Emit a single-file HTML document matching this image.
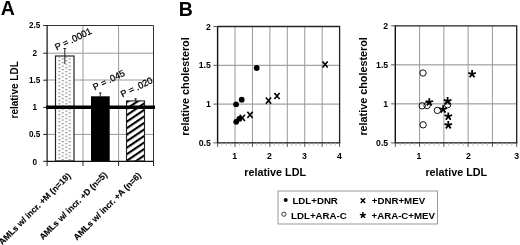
<!DOCTYPE html>
<html><head><meta charset="utf-8">
<style>
html,body{margin:0;padding:0;background:#fff;width:520px;height:245px;overflow:hidden}
svg{display:block;will-change:transform}
text{font-family:"Liberation Sans",sans-serif}
.b{font-weight:bold}
</style></head><body>
<svg width="520" height="245" viewBox="0 0 520 245">
<defs>
<pattern id="dots" patternUnits="userSpaceOnUse" width="7" height="3.6" x="58.5" y="56.5">
<rect x="0" y="0" width="1.6" height="1.2" fill="#707070"/>
<rect x="3.5" y="1.8" width="1.6" height="1.2" fill="#707070"/>
</pattern>
<pattern id="hatch" patternUnits="userSpaceOnUse" width="5.4" height="10" patternTransform="translate(126,101.4) rotate(56)">
<rect x="0" y="0" width="2.1" height="10" fill="#000"/>
</pattern>
<g id="mx"><path d="M-2.6,-3.1 L2.6,3.1 M2.6,-3.1 L-2.6,3.1" stroke="#000" stroke-width="1.6" fill="none"/></g>
<g id="ms"><path d="M0,0 L0,-4 M0,0 L-3.8,-1.2 M0,0 L3.8,-1.2 M0,0 L-2.4,3.3 M0,0 L2.4,3.3" stroke="#000" stroke-width="1.8" fill="none"/></g>
</defs>

<!-- ===== Panel A ===== -->
<text x="0.7" y="15.4" class="b" font-size="19.5">A</text>
<g stroke="#999" stroke-width="1" fill="none">
<path d="M47,53.2 H154 M47,80 H154 M47,134.4 H154"/>
<path d="M83,25 V161 M118.6,25 V161"/>
</g>
<!-- bars -->
<rect x="55.5" y="56" width="18.5" height="105" fill="#fff"/>
<rect x="57.5" y="57" width="14.5" height="104" fill="url(#dots)"/>
<rect x="55.5" y="56" width="18.5" height="105" fill="none" stroke="#222" stroke-width="1.2"/>
<rect x="91" y="96.3" width="18.7" height="64.7" fill="#000"/>
<rect x="126.5" y="100.9" width="18" height="60.1" fill="#fff"/>
<rect x="126.5" y="100.9" width="18" height="60.1" fill="url(#hatch)" stroke="#222" stroke-width="1.1"/>
<!-- error bars -->
<g stroke="#222" stroke-width="1" fill="none">
<path d="M64.8,48.5 V64 M63.5,48.5 H66.1"/>
<path d="M100.3,93 V97 M99,93 H101.6"/>
<path d="M135.6,98.8 V101 M134.4,98.8 H136.8"/>
</g>
<!-- frame -->
<path d="M47,25.5 H153.5 V161" stroke="#333" stroke-width="1" fill="none"/>
<path d="M47.1,25 V161.3 H154" stroke="#111" stroke-width="1.2" fill="none"/>
<g stroke="#222" stroke-width="1">
<path d="M43.2,25.5 H47 M43.2,53.2 H47 M43.2,80.2 H47 M43.2,107.4 H47 M43.2,134.4 H47 M43.2,161.3 H47"/>
<path d="M47.1,161 V166 M83,161 V166 M118.6,161 V166 M153.5,161 V166"/>
</g>
<!-- thick line at 1 -->
<rect x="46" y="105.5" width="109" height="3.5" fill="#000"/>
<g class="b" font-size="8.2" text-anchor="middle">
<text x="34.7" y="28.3">2.5</text>
<text x="34.7" y="55.5">2</text>
<text x="34.7" y="82.7">1.5</text>
<text x="34.7" y="110.3">1</text>
<text x="34.7" y="137">0.5</text>
<text x="34.7" y="164.6">0</text>
</g>
<text class="b" font-size="10" transform="translate(17.6,118.5) rotate(-90)">relative LDL</text>
<g font-size="9.2" stroke="#000" stroke-width="0.25">
<text transform="translate(56.8,50.6) rotate(-26)">P = .0001</text>
<text transform="translate(94.8,90.4) rotate(-26)">P = .045</text>
<text transform="translate(122.6,97.6) rotate(-26)">P = .020</text>
</g>
<g class="b" font-size="8.6" stroke="#000" stroke-width="0.15">
<text transform="translate(2.3,245.3) rotate(-45)">AMLs w/ incr. +M (n=19)</text>
<text transform="translate(42.9,240.3) rotate(-45)">AMLs w/ incr. +D (n=5)</text>
<text transform="translate(77,240.7) rotate(-45)">AMLs w/ incr. +A (n=6)</text>
</g>

<!-- ===== Panel B ===== -->
<text x="178.7" y="15.6" class="b" font-size="19.5">B</text>
<!--axB-->
<g stroke="#9a9a9a" stroke-width="1" fill="none">
<path d="M217.6,65.3 H339.6 M217.6,104.1 H339.6" stroke="#8c8c8c"/>
<path d="M235.03,26.5 V142.9 M252.46,26.5 V142.9 M269.89,26.5 V142.9 M287.31,26.5 V142.9 M304.74,26.5 V142.9 M322.17,26.5 V142.9"/>
</g>
<path d="M217.6,26.5 H339.6 V142.9" stroke="#222" stroke-width="1.3" fill="none"/>
<path d="M217.6,25.9 V142.9 H340.2" stroke="#111" stroke-width="1.4" fill="none"/>
<path d="M213.4,142.9 H217.6 M213.4,104.1 H217.6 M213.4,65.3 H217.6 M213.4,26.5 H217.6" stroke="#555" stroke-width="1"/>
<path d="M217.6,142.9 V146.9 M235.03,142.9 V146.9 M252.46,142.9 V146.9 M269.89,142.9 V146.9 M287.31,142.9 V146.9 M304.74,142.9 V146.9 M322.17,142.9 V146.9 M339.6,142.9 V146.9" stroke="#555" stroke-width="1"/>
<path d="M221.96,142.9 V145.9 M226.31,142.9 V145.9 M230.67,142.9 V145.9 M239.39,142.9 V145.9 M243.74,142.9 V145.9 M248.1,142.9 V145.9 M256.81,142.9 V145.9 M261.17,142.9 V145.9 M265.53,142.9 V145.9 M274.24,142.9 V145.9 M278.6,142.9 V145.9 M282.96,142.9 V145.9 M291.67,142.9 V145.9 M296.03,142.9 V145.9 M300.39,142.9 V145.9 M309.1,142.9 V145.9 M313.46,142.9 V145.9 M317.81,142.9 V145.9 M326.53,142.9 V145.9 M330.89,142.9 V145.9 M335.24,142.9 V145.9" stroke="#bbb" stroke-width="0.9"/>
<!--/axB-->
<g class="b" font-size="8.7" text-anchor="end">
<text x="210.8" y="29.5">2</text>
<text x="210.8" y="68.4">1.5</text>
<text x="210.8" y="107.4">1</text>
<text x="210.8" y="146.4">0.5</text>
</g>
<g class="b" font-size="8.7" text-anchor="middle">
<text x="234.6" y="159">1</text>
<text x="269.5" y="159">2</text>
<text x="304.4" y="159">3</text>
<text x="339.4" y="159">4</text>
</g>
<text class="b" font-size="10.8" x="275.2" y="176.2" text-anchor="middle">relative LDL</text>
<text class="b" font-size="10.8" transform="translate(189.3,86.5) rotate(-90)" text-anchor="middle">relative cholesterol</text>
<!-- data B -->
<g fill="#000">
<circle cx="236.1" cy="104.3" r="2.9"/>
<circle cx="241.7" cy="99.7" r="2.9"/>
<circle cx="236.2" cy="121.8" r="2.9"/>
<circle cx="239.3" cy="118.8" r="2.9"/>
<circle cx="256.7" cy="68" r="2.9"/>
</g>
<use href="#mx" x="242.3" y="117.8"/>
<use href="#mx" x="250" y="114.9"/>
<use href="#mx" x="268.5" y="100.6"/>
<use href="#mx" x="277" y="96"/>
<use href="#mx" x="325.1" y="64.5"/>

<!-- ===== Panel C ===== -->
<!--axC-->
<g stroke="#9a9a9a" stroke-width="1" fill="none">
<path d="M395.3,64.83 H516.7 M395.3,103.87 H516.7" stroke="#8c8c8c"/>
<path d="M419.58,25.8 V142.9 M443.86,25.8 V142.9 M468.14,25.8 V142.9 M492.42,25.8 V142.9"/>
</g>
<path d="M395.3,25.8 H516.7 V142.9" stroke="#222" stroke-width="1.3" fill="none"/>
<path d="M395.3,25.2 V142.9 H517.3" stroke="#111" stroke-width="1.4" fill="none"/>
<path d="M391.1,142.9 H395.3 M391.1,103.87 H395.3 M391.1,64.83 H395.3 M391.1,25.8 H395.3" stroke="#555" stroke-width="1"/>
<path d="M395.3,142.9 V146.9 M419.58,142.9 V146.9 M443.86,142.9 V146.9 M468.14,142.9 V146.9 M492.42,142.9 V146.9 M516.7,142.9 V146.9" stroke="#555" stroke-width="1"/>
<path d="M400.16,142.9 V145.9 M405.01,142.9 V145.9 M409.87,142.9 V145.9 M414.72,142.9 V145.9 M424.44,142.9 V145.9 M429.29,142.9 V145.9 M434.15,142.9 V145.9 M439,142.9 V145.9 M448.72,142.9 V145.9 M453.57,142.9 V145.9 M458.43,142.9 V145.9 M463.28,142.9 V145.9 M473,142.9 V145.9 M477.85,142.9 V145.9 M482.71,142.9 V145.9 M487.56,142.9 V145.9 M497.28,142.9 V145.9 M502.13,142.9 V145.9 M506.99,142.9 V145.9 M511.84,142.9 V145.9" stroke="#bbb" stroke-width="0.9"/>
<!--/axC-->
<g class="b" font-size="8.7" text-anchor="end">
<text x="388.2" y="28.8">2</text>
<text x="388.2" y="67.6">1.5</text>
<text x="388.2" y="106.6">1</text>
<text x="388.2" y="146">0.5</text>
</g>
<g class="b" font-size="8.7" text-anchor="middle">
<text x="419" y="158.6">1</text>
<text x="468.5" y="158.6">2</text>
<text x="516.6" y="158.6">3</text>
</g>
<text class="b" font-size="10.8" x="456.3" y="176" text-anchor="middle">relative LDL</text>
<text class="b" font-size="10.8" transform="translate(366.5,86.4) rotate(-90)" text-anchor="middle">relative cholesterol</text>
<!-- data C -->
<g fill="none" stroke="#111" stroke-width="1">
<circle cx="423" cy="73" r="3.2"/>
<circle cx="422.2" cy="105.8" r="3.2"/>
<circle cx="427.1" cy="105.5" r="3.2"/>
<circle cx="437.4" cy="110.4" r="3.2"/>
<circle cx="447.6" cy="104.7" r="3.2"/>
<circle cx="423.1" cy="124.8" r="3.2"/>
</g>
<use href="#ms" x="429.3" y="102.2"/>
<use href="#ms" x="443.1" y="109.3"/>
<use href="#ms" x="447.6" y="101.1"/>
<use href="#ms" x="448.3" y="116.4"/>
<use href="#ms" x="448.3" y="125.1"/>
<use href="#ms" x="472.1" y="74"/>

<!-- ===== Legend ===== -->
<rect x="278" y="191" width="159.5" height="33" fill="none" stroke="#999" stroke-width="1"/>
<circle cx="285.7" cy="199.9" r="2" fill="#000"/>
<circle cx="283.9" cy="214.2" r="2.1" fill="none" stroke="#222" stroke-width="0.9"/>
<path d="M360.7,198.3 L365.1,202.9 M365.1,198.3 L360.7,202.9" stroke="#000" stroke-width="1.45"/>
<g transform="translate(362.9,215.3) scale(0.8)"><use href="#ms"/></g>
<g class="b" font-size="9.7">
<text x="292.4" y="204.2">LDL+DNR</text>
<text x="291.1" y="218.9">LDL+ARA-C</text>
<text x="371.8" y="204.2">+DNR+MEV</text>
<text x="371.5" y="218.9">+ARA-C+MEV</text>
</g>
</svg>
</body></html>
